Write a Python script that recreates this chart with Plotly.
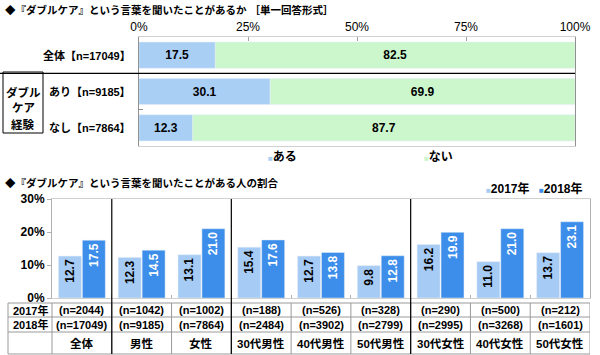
import plotly.graph_objects as go

# ---------------- data ----------------
top_cats = ['全体', 'あり', 'なし']
top_labels = ['全体【n=17049】', 'あり【n=9185】', 'なし【n=7864】']
aru = [17.5, 30.1, 12.3]
nai = [82.5, 69.9, 87.7]
top_ticks = [0, 25, 50, 75, 100]

cats = ['全体', '男性', '女性', '30代男性', '40代男性', '50代男性', '30代女性', '40代女性', '50代女性']
v2017 = [12.7, 12.3, 13.1, 15.4, 12.7, 9.8, 16.2, 11.0, 13.7]
v2018 = [17.5, 14.5, 21.0, 17.6, 13.8, 12.8, 19.9, 21.0, 23.1]
n2017 = ['(n=2044)', '(n=1042)', '(n=1002)', '(n=188)', '(n=526)', '(n=328)', '(n=290)', '(n=500)', '(n=212)']
n2018 = ['(n=17049)', '(n=9185)', '(n=7864)', '(n=2484)', '(n=3902)', '(n=2799)', '(n=2995)', '(n=3268)', '(n=1601)']
bottom_ticks = [0, 10, 20, 30]
separators_after = [0, 2, 5]
box_lines = ['ダブル', 'ケア', '経験']

FONT = "Arial, 'Liberation Sans', 'Noto Sans CJK JP', sans-serif"
C_ARU = '#A9CFF5'
C_NAI = '#CCF7CC'
C17 = '#A6CBF4'
C18 = '#3D8EEA'
GRID = '#D0D0D0'
TABLE = '#9A9A9A'

W, H = 600, 355
def px(x):
    return x / W
def py(y):
    return 1 - y / H

fig = go.Figure()

# top chart
fig.add_trace(go.Bar(
    y=top_cats, x=aru, orientation='h', name='ある', marker_color=C_ARU,
    offset=-0.36, width=0.72, text=[f'<b>{v:.1f}</b>' for v in aru], textposition='inside',
    insidetextanchor='middle', textfont=dict(color='black', size=12, family=FONT),
    xaxis='x', yaxis='y', showlegend=False))
fig.add_trace(go.Bar(
    y=top_cats, x=nai, base=aru, orientation='h', name='ない', marker_color=C_NAI,
    offset=-0.36, width=0.72, text=[f'<b>{v:.1f}</b>' for v in nai], textposition='inside',
    insidetextanchor='middle', textfont=dict(color='black', size=12, family=FONT),
    xaxis='x', yaxis='y', showlegend=False))

# bottom chart
fig.add_trace(go.Bar(
    x=cats, y=v2017, name='2017年', marker_color=C17, offsetgroup='a',
    text=[f'<b>{v:.1f}</b>' for v in v2017], textposition='inside', insidetextanchor='end',
    textangle=-90, textfont=dict(color='black', size=12, family=FONT),
    xaxis='x2', yaxis='y2', showlegend=False))
fig.add_trace(go.Bar(
    x=cats, y=v2018, name='2018年', marker_color=C18, offsetgroup='b',
    text=[f'<b>{v:.1f}</b>' for v in v2018], textposition='inside', insidetextanchor='end',
    textangle=-90, textfont=dict(color='white', size=12, family=FONT),
    xaxis='x2', yaxis='y2', showlegend=False))

top_dom_x = [px(139), px(575)]
top_dom_y = [py(146), py(37)]
bot_dom_x = [px(52), px(590)]
bot_dom_y = [py(298), py(199)]

fig.update_layout(
    width=W, height=H, margin=dict(l=0, r=0, t=0, b=0, autoexpand=False),
    paper_bgcolor='white', plot_bgcolor='white',
    font=dict(family=FONT, size=12, color='black'),
    barmode='group', bargap=0.2, bargroupgap=0.04,
    xaxis=dict(domain=top_dom_x, range=[0, 100], side='top', tickmode='array',
               tickvals=top_ticks, ticktext=[f'{v}%' for v in top_ticks],
               showgrid=False, zeroline=False, showline=True, automargin=False,
               linecolor=GRID, mirror=True, ticks='inside', ticklen=4, tickcolor='#A0A0A0',
               tickfont=dict(size=12, family=FONT), anchor='y'),
    yaxis=dict(domain=top_dom_y, categoryorder='array', categoryarray=top_cats,
               autorange='reversed', showticklabels=False, showgrid=False, zeroline=False,
               showline=True, linecolor='#909090', mirror=True, ticks='inside', automargin=False,
               tickson='boundaries', ticklen=4, tickcolor='#909090', anchor='x'),
    xaxis2=dict(domain=bot_dom_x, range=[-0.5, 8.5], categoryorder='array', categoryarray=cats,
                showticklabels=False, showgrid=False, zeroline=False, showline=True,
                linecolor=GRID, mirror=True, ticks='inside', tickson='boundaries', automargin=False,
                ticklen=3, tickcolor='#B0B0B0', anchor='y2'),
    yaxis2=dict(domain=bot_dom_y, range=[0, 30], tickmode='array', tickvals=bottom_ticks,
                ticktext=[f'{v}%' for v in bottom_ticks], automargin=False,
                showgrid=False, zeroline=False, showline=True, linecolor='#B0B0B0', mirror=True,
                ticks='outside', ticklen=4, tickcolor='#B0B0B0',
                tickfont=dict(size=12, family=FONT, weight='bold'), anchor='x2'),
)

ann = []
def A(text, x, y, xref='paper', yref='paper', xanchor='center', size=12, bold=True, color='black'):
    ann.append(dict(text=f'<b>{text}</b>' if bold else text, x=x, y=y, xref=xref, yref=yref,
                    xanchor=xanchor, yanchor='middle', showarrow=False,
                    font=dict(size=size, family=FONT, color=color)))

# titles
A('◆『ダブルケア』という言葉を聞いたことがあるか ［単一回答形式］', px(3), py(10), xanchor='left', size=10.5)
A('◆『ダブルケア』という言葉を聞いたことがある人の割合', px(3), py(183), xanchor='left', size=10.5)

# top left labels
for c, lab in zip(top_cats, top_labels):
    A(lab, px(133), c, yref='y', xanchor='right', size=11)
for line, yy in zip(box_lines, [92, 108, 125]):
    A(line, px(23), py(yy), size=11.5)

# legends
sq = "<span style='font-size:8px;color:{}'>■</span>"
A(sq.format(C_ARU) + 'ある', px(266), py(157), xanchor='left', size=12)
A(sq.format(C_NAI) + 'ない', px(422), py(157), xanchor='left', size=12)
A(sq.format(C17) + '2017年', px(484), py(188), xanchor='left', size=12)
A(sq.format(C18) + '2018年', px(537), py(188), xanchor='left', size=12)

# table
A('2017年', px(30), py(310), size=11)
A('2018年', px(30), py(324.5), size=11)
for c, a, b in zip(cats, n2017, n2018):
    A(a, c, py(310), xref='x2', size=11)
    A(b, c, py(324.5), xref='x2', size=11)
    A(c, c, py(343), xref='x2', size=11.5)

shapes = []
# box around ダブルケア経験
shapes.append(dict(type='rect', xref='paper', yref='paper', x0=px(3), x1=px(43),
                   y0=py(133), y1=py(72), line=dict(color='black', width=1)))
# top separator line
shapes.append(dict(type='line', xref='paper', yref='y', x0=0, x1=top_dom_x[1], y0=0.5, y1=0.5,
                   line=dict(color='black', width=1.2)))
# table horizontal lines
for yy in [303, 317, 332, 354]:
    shapes.append(dict(type='line', xref='paper', yref='paper', x0=px(8), x1=bot_dom_x[1],
                       y0=py(yy), y1=py(yy), line=dict(color=TABLE, width=1)))
# table vertical lines
for xx in [8, 52]:
    shapes.append(dict(type='line', xref='paper', yref='paper', x0=px(xx), x1=px(xx),
                       y0=py(354), y1=py(303), line=dict(color=TABLE, width=1)))
for i in range(len(cats)):
    shapes.append(dict(type='line', xref='x2', yref='paper', x0=i + 0.5, x1=i + 0.5,
                       y0=py(354), y1=py(303), line=dict(color=TABLE, width=1)))
# black group separators
for i in separators_after:
    shapes.append(dict(type='line', xref='x2', yref='paper', x0=i + 0.5, x1=i + 0.5,
                       y0=py(354), y1=bot_dom_y[1], line=dict(color='black', width=1.2)))

fig.update_layout(annotations=ann, shapes=shapes)
fig.write_html('out.html', config={'displayModeBar': False},
               post_script="document.body.style.margin='0';document.body.style.overflow='hidden';")
